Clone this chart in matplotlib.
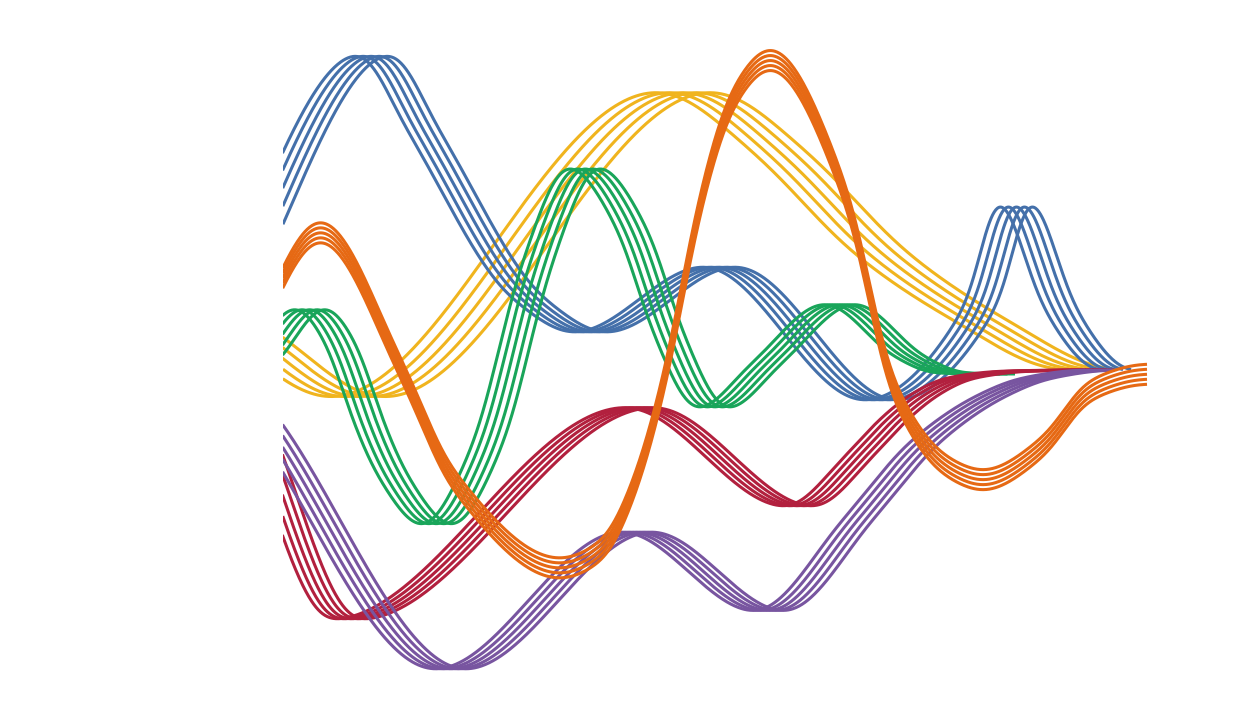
import numpy as np
import matplotlib
matplotlib.use("Agg")
import matplotlib.pyplot as plt

# ---- series data (x, value) ----
blue_x = [17.0, 37.5, 42.3, 53.0, 59.0, 72.0, 88.0, 98.5, 101.3, 106.0, 111.5]
blue_y = [35.0, 66.7, 59.0, 42.0, 38.7, 45.4, 31.9, 42.0, 52.8, 41.0, 34.9]

yellow_x = [20.0, 35.7, 68.5, 78.0, 88.0, 98.0, 109.0]
yellow_y = [41.0, 32.0, 63.1, 56.8, 46.7, 40.0, 34.9]

green_x = [25.0, 31.0, 34.3, 36.5, 39.5, 43.7, 48.7, 53.7, 58.3, 63.3, 66.7,
           71.2, 76.7, 84.0, 91.0, 95.0, 100.0]
green_y = [35.0, 41.4, 37.3, 30.7, 24.0, 19.3, 27.3, 45.7, 55.5, 49.0, 39.0,
           31.0, 35.7, 41.7, 36.3, 34.7, 34.6]

red_x = [22.0, 34.5, 64.0, 80.0, 86.0, 89.3, 92.7, 96.0, 102.0, 110.0]
red_y = [35.0, 10.0, 31.3, 21.3, 26.5, 30.0, 32.7, 34.2, 34.9, 35.0]

purple_x = [20.0, 45.0, 63.7, 77.0, 86.0, 92.7, 99.3, 103.7, 110.0]
purple_y = [35.0, 5.0, 18.9, 10.8, 20.3, 28.0, 32.5, 34.2, 35.0]

orange_x = [22.5, 32.0, 40.3, 45.3, 56.0, 60.3, 63.7, 66.7, 70.0, 73.3, 77.0,
            84.7, 89.3, 94.7, 98.3, 104.3, 109.0, 114.7]
orange_y = [35.0, 49.1, 34.7, 24.0, 15.1, 17.0, 24.0, 35.0, 51.7, 62.3, 66.3,
            52.3, 33.0, 25.3, 23.9, 27.3, 33.0, 34.6]


# monotone cubic (flat at extrema), softened a little so joins stay round
def monotone(xs, ys, soft, n=1200):
    xs = np.asarray(xs, float)
    ys = np.asarray(ys, float)
    h = np.diff(xs)
    d = np.diff(ys) / h
    m = np.zeros(len(xs))
    for k in range(1, len(xs) - 1):
        if d[k - 1] * d[k] > 0:
            w1 = 2 * h[k] + h[k - 1]
            w2 = h[k] + 2 * h[k - 1]
            m[k] = (w1 + w2) / (w1 / d[k - 1] + w2 / d[k])
    xx = np.linspace(xs[0], xs[-1], n)
    i = np.clip(np.searchsorted(xs, xx) - 1, 0, len(xs) - 2)
    t = (xx - xs[i]) / h[i]
    h00 = 2 * t**3 - 3 * t**2 + 1
    h10 = t**3 - 2 * t**2 + t
    h01 = -2 * t**3 + 3 * t**2
    h11 = t**3 - t**2
    yy = h00 * ys[i] + h10 * h[i] * m[i] + h01 * ys[i + 1] + h11 * h[i] * m[i + 1]
    # gaussian soften
    step = xx[1] - xx[0]
    s = soft / step
    r = int(4 * s)
    kern = np.exp(-0.5 * (np.arange(-r, r + 1) / s) ** 2)
    kern /= kern.sum()
    pad = np.concatenate([np.full(r, yy[0]), yy, np.full(r, yy[-1])])
    yy = np.convolve(pad, kern, mode="valid")
    return xx, yy


fig = plt.figure(figsize=(12.4, 7.2), dpi=100)
ax = fig.add_axes([283 / 1240, 0, 1 - 283 / 1240, 1])
ax.set_xlim(28.3, 124)
ax.set_ylim(0, 72)
ax.axis("off")

offsets = [-2, -1, 0, 1, 2]
lw = 2.2

# (x, y, colour, shift direction, shift step, softening)
series = [
    (yellow_x, yellow_y, "#F0B41E", "h", 1.35, 2.0),
    (blue_x, blue_y, "#4470AA", "h", 0.8, 1.0),
    (green_x, green_y, "#19A55A", "h", 0.75, 0.9),
    (red_x, red_y, "#B2203E", "h", 0.7, 0.9),
    (purple_x, purple_y, "#7855A0", "h", 0.75, 1.0),
    (orange_x, orange_y, "#E66914", "v", 0.5, 1.0),
]

for xs, ys, col, mode, step, soft in series:
    cx, cy = monotone(xs, ys, soft)
    for k in offsets:
        if mode == "h":
            ax.plot(cx + k * step, cy, color=col, lw=lw, solid_capstyle="butt")
        else:
            ax.plot(cx, cy - k * step, color=col, lw=lw, solid_capstyle="butt")

fig.savefig("out.png", dpi=100)
